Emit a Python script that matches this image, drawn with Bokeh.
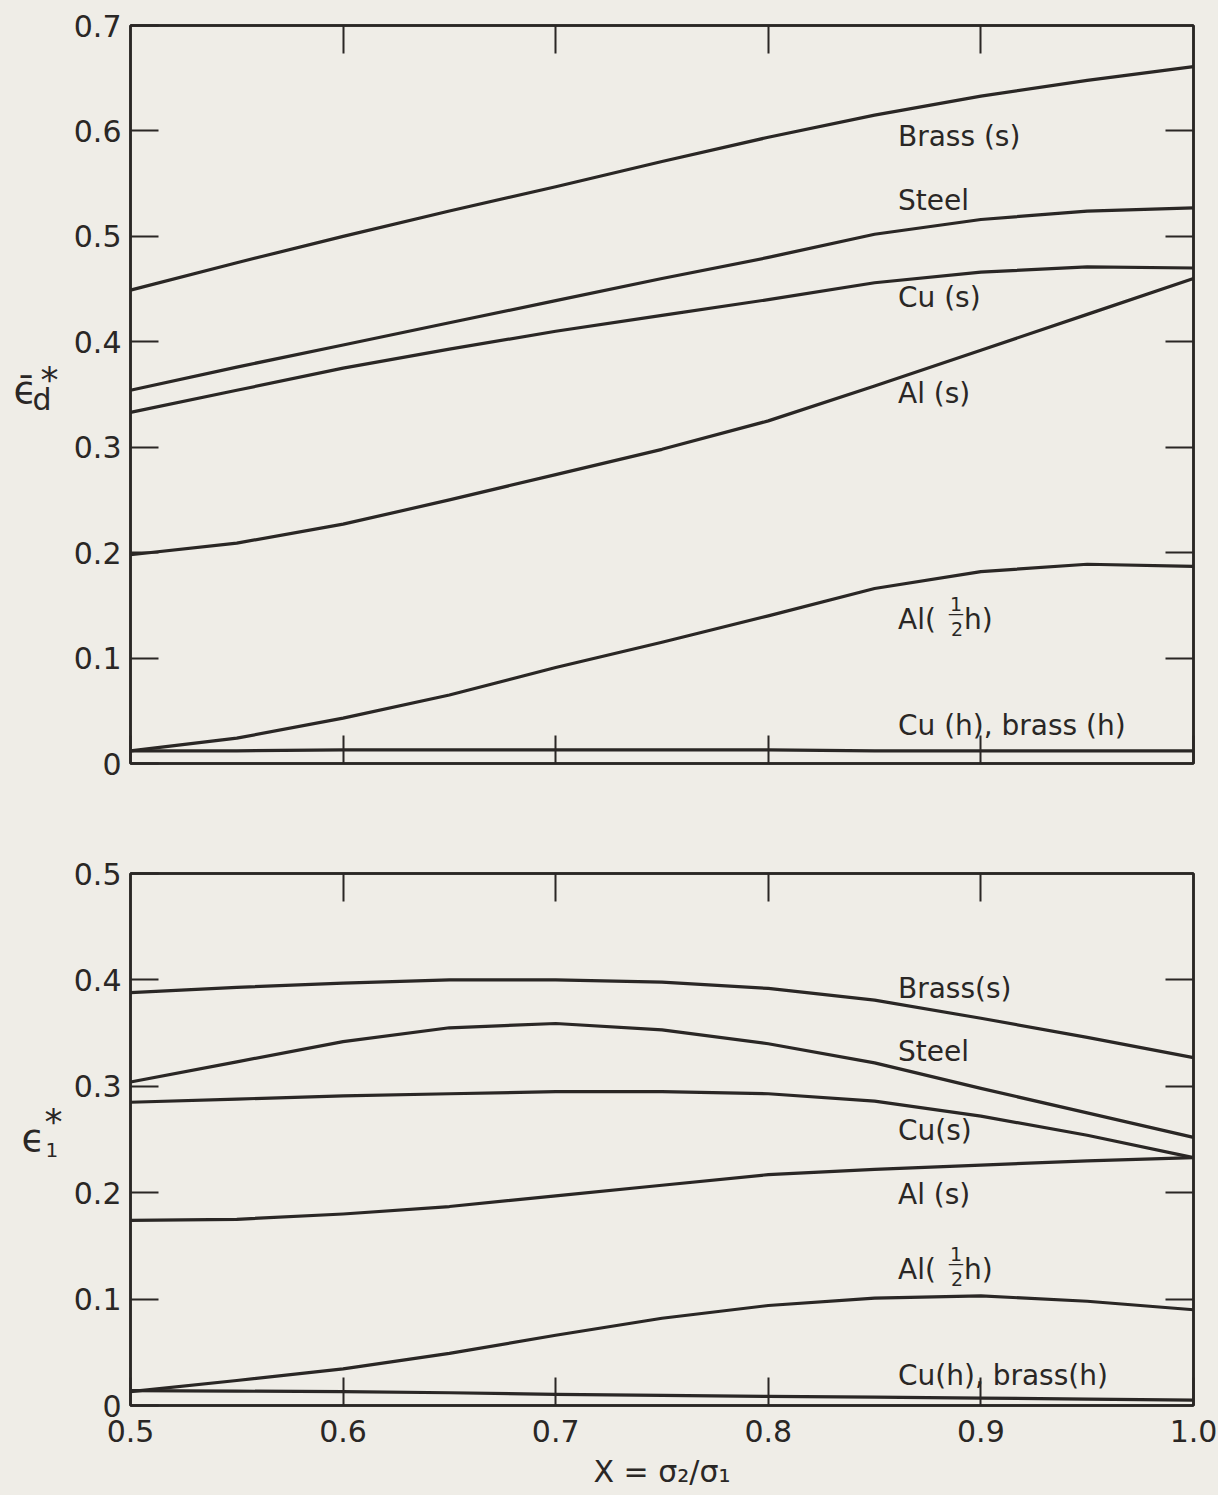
from bokeh.plotting import figure
from bokeh.layouts import column, row
from bokeh.models import Range1d, FixedTicker, LinearAxis, Label
from bokeh.core.properties import value
from bokeh.embed import file_html
from bokeh.resources import INLINE

INK = "#2a2725"
PAPER = "#efede7"
FONT = "DejaVu Sans"

# ---------------- data ----------------
x_ratio = [0.5, 0.55, 0.6, 0.65, 0.7, 0.75, 0.8, 0.85, 0.9, 0.95, 1.0]

# upper panel: mean deviatoric strain  eps_d*
top_brass_s = [0.449, 0.475, 0.500, 0.524, 0.547, 0.571, 0.594, 0.615, 0.633, 0.648, 0.661]
top_steel = [0.354, 0.376, 0.397, 0.418, 0.439, 0.460, 0.480, 0.502, 0.516, 0.524, 0.527]
top_cu_s = [0.333, 0.354, 0.375, 0.393, 0.410, 0.425, 0.440, 0.456, 0.466, 0.471, 0.470]
top_al_s = [0.198, 0.209, 0.227, 0.250, 0.274, 0.298, 0.325, 0.358, 0.392, 0.426, 0.460]
top_al_half_h = [0.012, 0.024, 0.043, 0.065, 0.091, 0.115, 0.140, 0.166, 0.182, 0.189, 0.187]
top_cu_h_brass_h = [0.012, 0.012, 0.013, 0.013, 0.013, 0.013, 0.013, 0.012, 0.012, 0.012, 0.012]

# lower panel: eps_1*
bot_brass_s = [0.388, 0.393, 0.397, 0.400, 0.400, 0.398, 0.392, 0.381, 0.364, 0.346, 0.327]
bot_steel = [0.304, 0.323, 0.342, 0.355, 0.359, 0.353, 0.340, 0.322, 0.298, 0.275, 0.252]
bot_cu_s = [0.285, 0.288, 0.291, 0.293, 0.295, 0.295, 0.293, 0.286, 0.272, 0.254, 0.233]
bot_al_s = [0.174, 0.175, 0.180, 0.187, 0.197, 0.207, 0.217, 0.222, 0.226, 0.230, 0.233]
bot_al_half_h = [0.013, 0.0235, 0.0345, 0.049, 0.066, 0.082, 0.094, 0.101, 0.103, 0.098, 0.090]
bot_cu_h_brass_h = [0.014, 0.0135, 0.013, 0.012, 0.0105, 0.0095, 0.0085, 0.0078, 0.007, 0.006, 0.005]

# curve labels (text, baseline value)
top_labels = ["Brass (s)", "Steel", "Cu (s)", "Al (s)", "Cu (h), brass (h)"]
top_label_y = [0.595, 0.534, 0.442, 0.351, 0.036]
top_half_label_y = 0.137
bot_labels = ["Brass(s)", "Steel", "Cu(s)", "Al (s)", "Cu(h), brass(h)"]
bot_label_y = [0.392, 0.333, 0.258, 0.198, 0.028]
bot_half_label_y = 0.128
label_x = 0.861

x_ticks = [0.5, 0.6, 0.7, 0.8, 0.9, 1.0]
x_tick_labels = ["0.5", "0.6", "0.7", "0.8", "0.9", "1.0"]
x_inner_ticks = [0.6, 0.7, 0.8, 0.9]
top_y_ticks = [0, 0.1, 0.2, 0.3, 0.4, 0.5, 0.6, 0.7]
top_y_tick_labels = ["0", "0.1", "0.2", "0.3", "0.4", "0.5", "0.6", "0.7"]
top_y_inner = [0.1, 0.2, 0.3, 0.4, 0.5, 0.6]
bot_y_ticks = [0, 0.1, 0.2, 0.3, 0.4, 0.5]
bot_y_tick_labels = ["0", "0.1", "0.2", "0.3", "0.4", "0.5"]
bot_y_inner = [0.1, 0.2, 0.3, 0.4]
x_title = "X = σ₂/σ₁"

# y titles: pieces (text, x in px of the side strip, baseline value, font size)
top_title_parts = [("ϵ̄", 13, 0.354, "38px"), ("d", 32, 0.345, "30px"), ("*", 40, 0.364, "36px")]
bot_title_parts = [("ϵ", 21, 0.251, "38px"), ("1", 45, 0.240, "20px"), ("*", 44, 0.267, "36px")]

SIDE_W = 62
FRAME_W = 1063
LEFT_B = 130 - SIDE_W
RIGHT_B = 25


def style_axis(ax, ticks, labels):
    ax.ticker = FixedTicker(ticks=ticks)
    ax.major_label_overrides = dict(zip(ticks, labels))
    ax.major_tick_in = 28
    ax.major_tick_out = 0
    ax.minor_tick_line_color = None
    ax.axis_line_color = INK
    ax.axis_line_width = 2.5
    ax.major_tick_line_color = INK
    ax.major_tick_line_width = 2
    ax.major_label_text_font = FONT
    ax.major_label_text_font_size = "30px"
    ax.major_label_text_color = INK


def make_panel(y_max, frame_h, b_top, b_bottom, y_ticks, y_labels, y_inner, x_labels):
    p = figure(frame_width=FRAME_W, frame_height=frame_h,
               x_range=Range1d(0.5, 1.0), y_range=Range1d(0, y_max),
               output_backend="svg", toolbar_location=None, tools="",
               x_axis_location=None, y_axis_location=None,
               min_border_left=LEFT_B, min_border_right=RIGHT_B,
               min_border_top=b_top, min_border_bottom=b_bottom)
    p.xgrid.visible = False
    p.ygrid.visible = False
    p.background_fill_color = PAPER
    p.border_fill_color = PAPER
    p.outline_line_color = INK
    p.outline_line_width = 2.5

    bottom_ax = LinearAxis()
    style_axis(bottom_ax, x_ticks, x_labels)
    bottom_ax.major_label_standoff = 14
    p.add_layout(bottom_ax, "below")

    left_ax = LinearAxis()
    style_axis(left_ax, y_ticks, y_labels)
    left_ax.major_label_standoff = 9
    p.add_layout(left_ax, "left")

    top_ax = LinearAxis()
    style_axis(top_ax, x_inner_ticks, ["" for _ in x_inner_ticks])
    top_ax.major_label_text_font_size = "2px"
    top_ax.major_label_standoff = 0
    p.add_layout(top_ax, "above")

    right_ax = LinearAxis()
    style_axis(right_ax, y_inner, ["" for _ in y_inner])
    right_ax.major_label_text_font_size = "2px"
    right_ax.major_label_standoff = 0
    p.add_layout(right_ax, "right")
    return p, bottom_ax


def make_side(y_max, frame_h, b_top, b_bottom, parts):
    s = figure(frame_width=SIDE_W, frame_height=frame_h,
               x_range=Range1d(0, SIDE_W), y_range=Range1d(0, y_max),
               output_backend="svg", toolbar_location=None, tools="",
               x_axis_location=None, y_axis_location=None,
               min_border_left=0, min_border_right=0,
               min_border_top=b_top, min_border_bottom=b_bottom)
    s.xgrid.visible = False
    s.ygrid.visible = False
    s.background_fill_color = PAPER
    s.border_fill_color = PAPER
    s.outline_line_color = None
    for txt, xpx, yv, size in parts:
        s.text(x=[xpx], y=[yv], text=[txt], text_font=value(FONT), text_font_size=size,
               text_color=INK, text_align="left", text_baseline="alphabetic")
    return s


def add_curves(p, series):
    for ys in series:
        p.line(x_ratio, ys, line_color=INK, line_width=3.2, line_join="round")


def add_labels(p, texts, ys):
    p.text(x=[label_x] * len(texts), y=ys, text=texts,
           text_font=value(FONT), text_font_size="28px", text_color=INK,
           text_align="left", text_baseline="alphabetic")


def add_half_label(p, y):
    common = dict(x=label_x, y=y, text_font=FONT, text_color=INK,
                  text_baseline="alphabetic")
    p.add_layout(Label(text="Al(", text_font_size="28px", text_align="left", **common))
    p.add_layout(Label(text="1", text_font_size="19px", text_align="center",
                       x_offset=58, y_offset=15, **common))
    p.add_layout(Label(text="—", text_font_size="16px", text_align="center",
                       x_offset=58, y_offset=6, **common))
    p.add_layout(Label(text="2", text_font_size="19px", text_align="center",
                       x_offset=59, y_offset=-10, **common))
    p.add_layout(Label(text="h)", text_font_size="28px", text_align="left",
                       x_offset=66, **common))


# ---------------- upper panel ----------------
p1, p1_bottom = make_panel(0.7, 738, 25, 55, top_y_ticks, top_y_tick_labels, top_y_inner,
                           ["" for _ in x_ticks])
p1_bottom.major_label_text_font_size = "2px"
add_curves(p1, [top_brass_s, top_steel, top_cu_s, top_al_s, top_al_half_h, top_cu_h_brass_h])
add_labels(p1, top_labels, top_label_y)
add_half_label(p1, top_half_label_y)
s1 = make_side(0.7, 738, 25, 55, top_title_parts)

# ---------------- lower panel ----------------
p2, p2_bottom = make_panel(0.5, 532, 55, 90, bot_y_ticks, bot_y_tick_labels, bot_y_inner,
                           x_tick_labels)
p2_bottom.axis_label = x_title
p2_bottom.axis_label_text_font = FONT
p2_bottom.axis_label_text_font_size = "30px"
p2_bottom.axis_label_text_font_style = "normal"
p2_bottom.axis_label_text_color = INK
p2_bottom.axis_label_standoff = 9
add_curves(p2, [bot_brass_s, bot_steel, bot_cu_s, bot_al_s, bot_al_half_h, bot_cu_h_brass_h])
add_labels(p2, bot_labels, bot_label_y)
add_half_label(p2, bot_half_label_y)
s2 = make_side(0.5, 532, 55, 90, bot_title_parts)

layout = column(row(s1, p1, spacing=0), row(s2, p2, spacing=0), spacing=0,
                styles={"background-color": PAPER})
open("out.html", "w").write(file_html(layout, INLINE))
